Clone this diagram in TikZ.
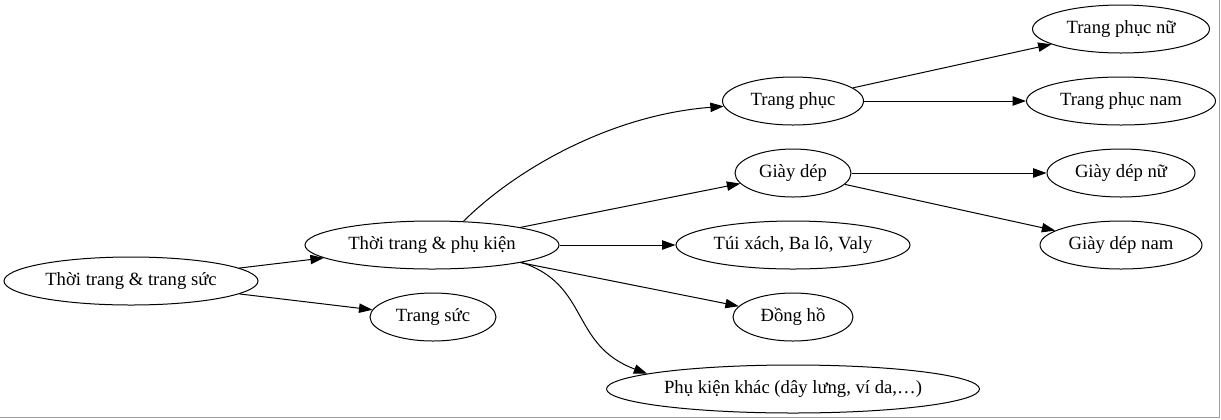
\documentclass[tikz,border=0pt]{standalone}
\usepackage{fontspec}
\setmainfont{Liberation Serif}
\usetikzlibrary{arrows.meta,shapes.geometric}
\begin{document}
\begin{tikzpicture}[x=0.75pt,y=-0.75pt,
  nd/.style={draw,ellipse,line width=0.75pt,inner sep=0pt,minimum height=36pt,font=\fontsize{14}{16}\selectfont},
  ar/.style={line width=0.75pt,-{Triangle[length=10pt,width=7pt]}}]
\useasboundingbox (0,0) rectangle (1221,419);
\draw[line width=1pt,color=black!38] (0,417.5) -- (1219.5,417.5) -- (1219.5,0);
\node[nd,minimum width=190.5pt] (a) at (131,281) {Thời trang \& trang sức};
\node[nd,minimum width=190.5pt] (b) at (432,245) {Thời trang \& phụ kiện};
\node[nd,minimum width=94.5pt] (ts) at (433,317) {Trang sức};
\node[nd,minimum width=105.75pt] (tp) at (793,101) {Trang phục};
\node[nd,minimum width=87pt] (gd) at (793,173) {Giày dép};
\node[nd,minimum width=175.5pt] (tx) at (793,245) {Túi xách, Ba lô, Valy};
\node[nd,minimum width=90pt] (dh) at (793,317) {Đồng hồ};
\node[nd,minimum width=279.75pt] (pk) at (793,389) {Phụ kiện khác (dây lưng, ví da,…)};
\node[nd,minimum width=132.75pt] (tpn) at (1121,29) {Trang phục nữ};
\node[nd,minimum width=141.75pt] (tpm) at (1121,101) {Trang phục nam};
\node[nd,minimum width=111pt] (gdn) at (1121,173) {Giày dép nữ};
\node[nd,minimum width=121.5pt] (gdm) at (1121,245) {Giày dép nam};
\draw[ar] (a) -- (b);
\draw[ar] (a) -- (ts);
\draw[ar] (b.37) .. controls (515,170) and (610,115) .. (tp);
\draw[ar] (b) -- (gd);
\draw[ar] (b) -- (tx);
\draw[ar] (b) -- (dh);
\draw[ar] (b.-11) .. controls (590,285) and (570,345) .. (pk.174);
\draw[ar] (tp) -- (tpn);
\draw[ar] (tp) -- (tpm);
\draw[ar] (gd) -- (gdn);
\draw[ar] (gd) -- (gdm);
\end{tikzpicture}
\end{document}
